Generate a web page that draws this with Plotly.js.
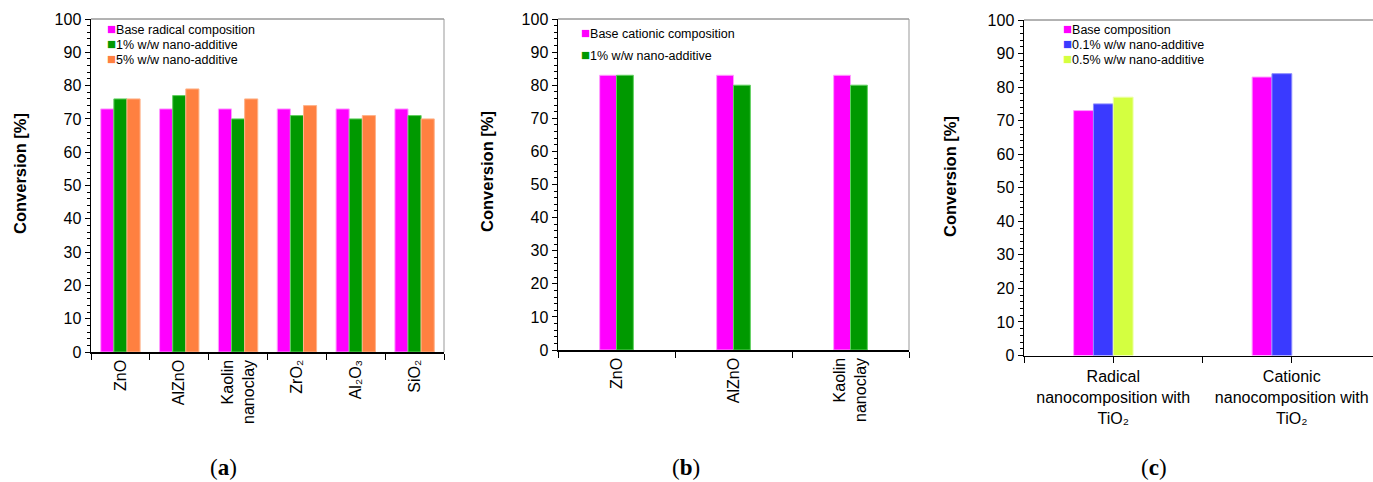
<!DOCTYPE html>
<html>
<head>
<meta charset="utf-8">
<script src="https://cdn.plot.ly/plotly-3.0.1.min.js"></script>
<style>html,body{margin:0;padding:0;background:#fff;}#chart{width:1373px;height:482px;}</style>
</head>
<body>
<div id="chart"></div>
<script>
// ---- data ----
const catsA = ['ZnO', 'AlZnO', 'Kaolin<br>nanoclay', 'ZrO\u2082', 'Al\u2082O\u2083', 'SiO\u2082'];
const baseA = [73, 73, 73, 73, 73, 73];
const add1A = [76, 77, 70, 71, 70, 71];
const add5A = [76, 79, 76, 74, 71, 70];
const namesA = ['Base radical composition', '1% w/w nano-additive', '5% w/w nano-additive'];

const catsB = ['ZnO', 'AlZnO', 'Kaolin<br>nanoclay'];
const baseB = [83, 83, 83];
const add1B = [83, 80, 80];
const namesB = ['Base cationic composition', '1% w/w nano-additive'];

const catsC = ['Radical<br>nanocomposition with<br>TiO\u2082', 'Cationic<br>nanocomposition with<br>TiO\u2082'];
const baseC = [73, 83];
const add01C = [75, 84];
const add05C = [77, null];
const namesC = ['Base composition', '0.1% w/w nano-additive', '0.5% w/w nano-additive'];

const panelLabels = ['(<b>a</b>)', '(<b>b</b>)', '(<b>c</b>)'];
const yTitle = 'Conversion [%]';

// ---- styles ----
const MAG = '#ff00ff', GRN = '#009900', ORG = '#ff8040', BLU = '#3a3aff', YEL = '#d4ff40';
const EDGE = {[MAG]: '#ff9cff', [GRN]: '#5fd05f', [ORG]: '#ffb38a', [BLU]: '#8c8cff', [YEL]: '#ecffa6'};
const FONT = 'Liberation Sans, Arial, sans-serif';

function bar(x, y, name, color, xa, ya, width, offset) {
  return {type: 'bar', x: x, y: y, name: name, xaxis: xa, yaxis: ya,
    width: width, offset: offset, showlegend: false,
    marker: {color: color, line: {color: EDGE[color], width: 1}},
    hoverinfo: 'x+y'};
}
const idxC = catsC.map((c, i) => i);
const traces = [
  bar(catsA, baseA, namesA[0], MAG, 'x', 'y', 0.223, -0.3345),
  bar(catsA, add1A, namesA[1], GRN, 'x', 'y', 0.223, -0.1115),
  bar(catsA, add5A, namesA[2], ORG, 'x', 'y', 0.223, 0.1115),
  bar(catsB, baseB, namesB[0], MAG, 'x2', 'y2', 0.144, -0.144),
  bar(catsB, add1B, namesB[1], GRN, 'x2', 'y2', 0.144, 0),
  bar(idxC, baseC, namesC[0], MAG, 'x3', 'y3', 0.111, -0.222),
  bar(idxC, add01C, namesC[1], BLU, 'x3', 'y3', 0.111, -0.111),
  bar(idxC, add05C, namesC[2], YEL, 'x3', 'y3', 0.111, 0)
];

const W = 1373, H = 482;
const px = v => v / W, py = v => 1 - v / H;

function yaxis(dom, anchor) {
  return {domain: dom, anchor: anchor, range: [0, 100], dtick: 10, tick0: 0,
    showgrid: false, zeroline: false, showline: true, linecolor: '#000', linewidth: 1.5,
    ticks: 'outside', ticklen: 5, tickwidth: 1, tickcolor: '#000',
    minor: {dtick: 2, ticks: 'outside', ticklen: 3, tickwidth: 1, tickcolor: '#000', showgrid: false},
    tickfont: {family: FONT, size: 16, color: '#000'}, fixedrange: true};
}
function xcat(dom, anchor, n, angle) {
  return {domain: dom, anchor: anchor, type: 'category', range: [-0.5, n - 0.5],
    showgrid: false, zeroline: false, showline: true, linecolor: '#000', linewidth: 1.5,
    ticks: 'outside', tickson: 'boundaries', ticklen: 6, tickwidth: 1, tickcolor: '#000',
    tickangle: angle, tickfont: {family: FONT, size: 16, color: '#000'}, fixedrange: true};
}

const xC = {domain: [px(1024), 1], anchor: 'y3', type: 'linear', range: [-0.5, 1.455],
  showgrid: false, zeroline: false, showline: true, linecolor: '#000', linewidth: 1.5,
  ticks: 'outside', ticklen: 6, tickwidth: 1, tickcolor: '#000', tickangle: 0,
  tickmode: 'array', tickvals: idxC, ticktext: catsC,
  minor: {tickmode: 'linear', tick0: -0.5, dtick: 1, ticks: 'outside', ticklen: 6, tickwidth: 1, tickcolor: '#000', showgrid: false},
  tickfont: {family: FONT, size: 16, color: '#000'}, fixedrange: true};

const shapes = [];
function frame(xa, ya, right) {
  shapes.push({type: 'line', xref: xa + ' domain', yref: ya + ' domain', x0: 0, x1: 1, y0: 1, y1: 1,
    line: {color: '#666', width: 1}, layer: 'below'});
  if (right) shapes.push({type: 'line', xref: xa + ' domain', yref: ya + ' domain', x0: 1, x1: 1, y0: 0, y1: 1,
    line: {color: '#999', width: 1}, layer: 'below'});
}
frame('x', 'y', true); frame('x2', 'y2', true); frame('x3', 'y3', false);

const ann = [];
function legend(names, colors, x, y0, dy) {
  names.forEach((n, i) => ann.push({xref: 'paper', yref: 'paper', x: px(x), y: py(y0 + i * dy),
    xanchor: 'left', yanchor: 'middle', showarrow: false,
    text: '<span style="color:' + colors[i] + ';font-size:15px">\u25A0</span>' + n,
    font: {family: FONT, size: 12.5, color: '#000'}}));
}
legend(namesA, [MAG, GRN, ORG], 105, 28, 15);
legend(namesB, [MAG, GRN], 579, 32.5, 21.5);
legend(namesC, [MAG, BLU, YEL], 1061, 28, 15);

[[20, 174], [487, 172], [950, 177]].forEach(p => ann.push({xref: 'paper', yref: 'paper',
  x: px(p[0]), y: py(p[1]), xanchor: 'center', yanchor: 'middle', textangle: -90, showarrow: false,
  text: '<b>' + yTitle + '</b>', font: {family: FONT, size: 16.5, color: '#000'}}));

[[223, panelLabels[0]], [686, panelLabels[1]], [1154, panelLabels[2]]].forEach(p => ann.push({
  xref: 'paper', yref: 'paper', x: px(p[0]), y: py(467), xanchor: 'center', yanchor: 'middle',
  showarrow: false, text: p[1], font: {family: 'Liberation Serif, serif', size: 23, color: '#000'}}));

const layout = {
  width: W, height: H, margin: {l: 0, r: 0, t: 0, b: 0},
  paper_bgcolor: '#fff', plot_bgcolor: 'rgba(0,0,0,0)', showlegend: false, barmode: 'group',
  xaxis: xcat([px(91), px(444)], 'y', catsA.length, -90),
  yaxis: yaxis([py(352), py(19)], 'x'),
  xaxis2: xcat([px(558), px(909)], 'y2', catsB.length, -90),
  yaxis2: yaxis([py(350), py(19)], 'x2'),
  xaxis3: xC,
  yaxis3: yaxis([py(355.5), py(20)], 'x3'),
  shapes: shapes, annotations: ann
};
Plotly.newPlot('chart', traces, layout, {staticPlot: true, displayModeBar: false});
</script>
</body>
</html>
